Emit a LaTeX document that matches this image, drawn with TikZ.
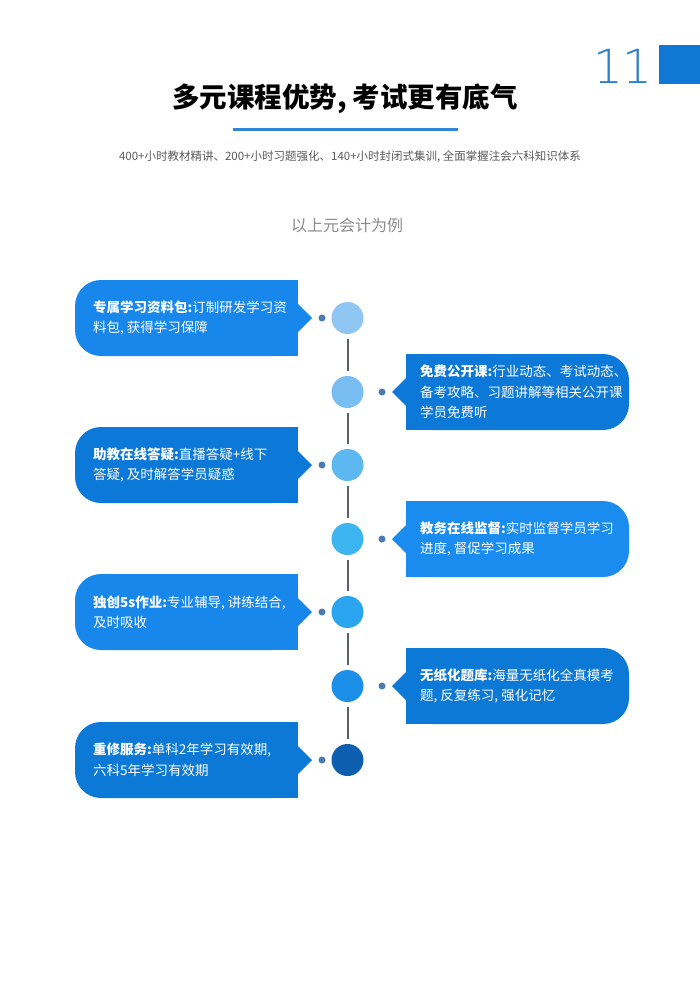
\documentclass[tikz,border=0pt]{standalone}
\usepackage{fontspec}
\setmainfont{Noto Sans CJK SC}
\IfFontExistsTF{DejaVu Sans ExtraLight}{\newfontfamily\numfont{DejaVu Sans ExtraLight}}{%
  \IfFontExistsTF{Lato Light}{\newfontfamily\numfont{Lato Light}}{%
    \newfontfamily\numfont{Latin Modern Roman}}}
\definecolor{bA}{HTML}{1787EC}
\definecolor{bB}{HTML}{0C78D7}
\definecolor{bC}{HTML}{1A8BEF}
\definecolor{bD}{HTML}{0D79D6}
\definecolor{cA}{HTML}{90C6F4}
\definecolor{cB}{HTML}{78BEF2}
\definecolor{cC}{HTML}{5DB8F2}
\definecolor{cD}{HTML}{3CB5F0}
\definecolor{cE}{HTML}{2BA5F0}
\definecolor{cF}{HTML}{1C8FE8}
\definecolor{cG}{HTML}{0D5EAE}
\definecolor{dotc}{HTML}{4C7BB3}
\definecolor{linec}{HTML}{5B6070}
\definecolor{numc}{HTML}{2B7FCF}
\definecolor{sqc}{HTML}{0F78D4}
\definecolor{tline}{HTML}{2F86D6}
\definecolor{subc}{HTML}{5A5A5A}
\definecolor{notec}{HTML}{8C8C8C}
\newcommand\leftbox[4]{%
  \fill[#2, rounded corners=26pt] (75,#1-38) rectangle (298,#1+38);
  \fill[#2] (250,#1-38) rectangle (298,#1+38);
  \fill[#2] (297,#1-15) -- (312,#1) -- (297,#1+15) -- cycle;
  \node[boxtext] (#3) at (93,#1) {#4};}
\newcommand\rightbox[4]{%
  \fill[#2, rounded corners=26pt] (406,#1-38) rectangle (629,#1+38);
  \fill[#2] (406,#1-38) rectangle (460,#1+38);
  \fill[#2] (407,#1-15) -- (392,#1) -- (407,#1+15) -- cycle;
  \node[boxtext] (#3) at (420,#1) {#4};}
\begin{document}
\begin{tikzpicture}[x=1pt,y=-1pt,
  boxtext/.style={anchor=west, align=left, inner sep=0pt, text=white,
    font=\fontsize{13.5}{20.5}\selectfont},
  circ/.style={circle, inner sep=0pt, minimum size=32pt},
  dotn/.style={circle, inner sep=0pt, minimum size=7pt, fill=dotc},
  vline/.style={draw=linec, line width=2pt, shorten <=5pt, shorten >=5pt}]
\useasboundingbox (0,0) rectangle (700,990);
\fill[white] (0,0) rectangle (700,990);
% header
\node[inner sep=0pt, anchor=base east, text=numc, font=\numfont\fontsize{47}{50}\selectfont] (num) at (653,83) {11};
\fill[sqc] (659,45) rectangle (700,84);
\node[inner sep=0pt, font=\bfseries\fontsize{27.5}{30}\selectfont] (title) at (345,99) {多元课程优势, 考试更有底气};
\draw[tline, line width=3pt] (233,129) -- (458,129);
\node[inner sep=0pt, text=subc, font=\fontsize{11.5}{13}\selectfont] (sub) at (350,157) {400+小时教材精讲、200+小时习题强化、140+小时封闭式集训, 全面掌握注会六科知识体系};
\node[inner sep=0pt, text=notec, font=\fontsize{16}{18}\selectfont] (note) at (347,225) {以上元会计为例};
% boxes
\leftbox{318}{bA}{t1}{{\bfseries 专属学习资料包:}订制研发学习资\\料包, 获得学习保障}
\rightbox{392}{bB}{t2}{{\bfseries 免费公开课:}行业动态、考试动态、\\备考攻略、习题讲解等相关公开课\\学员免费听}
\leftbox{465}{bB}{t3}{{\bfseries 助教在线答疑:}直播答疑+线下\\答疑, 及时解答学员疑惑}
\rightbox{539}{bC}{t4}{{\bfseries 教务在线监督:}实时监督学员学习\\进度, 督促学习成果}
\leftbox{612}{bA}{t5}{{\bfseries 独创5s作业:}专业辅导, 讲练结合,\\及时吸收}
\rightbox{686}{bD}{t6}{{\bfseries 无纸化题库:}海量无纸化全真模考\\题, 反复练习, 强化记忆}
\leftbox{760}{bD}{t7}{{\bfseries 重修服务:}单科2年学习有效期,\\六科5年学习有效期}
% circles
\node[circ, fill=cA] (c1) at (347.5,318) {};
\node[circ, fill=cB] (c2) at (347.5,392) {};
\node[circ, fill=cC] (c3) at (347.5,465) {};
\node[circ, fill=cD] (c4) at (347.5,539) {};
\node[circ, fill=cE] (c5) at (347.5,612) {};
\node[circ, fill=cF] (c6) at (347.5,686) {};
\node[circ, fill=cG] (c7) at (347.5,760) {};
\draw[vline] (c1) -- (c2);
\draw[vline] (c2) -- (c3);
\draw[vline] (c3) -- (c4);
\draw[vline] (c4) -- (c5);
\draw[vline] (c5) -- (c6);
\draw[vline] (c6) -- (c7);
% dots
\node[dotn] (d1) at (322,318) {};
\node[dotn] (d2) at (382,392) {};
\node[dotn] (d3) at (322,465) {};
\node[dotn] (d4) at (382,539) {};
\node[dotn] (d5) at (322,612) {};
\node[dotn] (d6) at (382,686) {};
\node[dotn] (d7) at (322,760) {};
\end{tikzpicture}
\end{document}
